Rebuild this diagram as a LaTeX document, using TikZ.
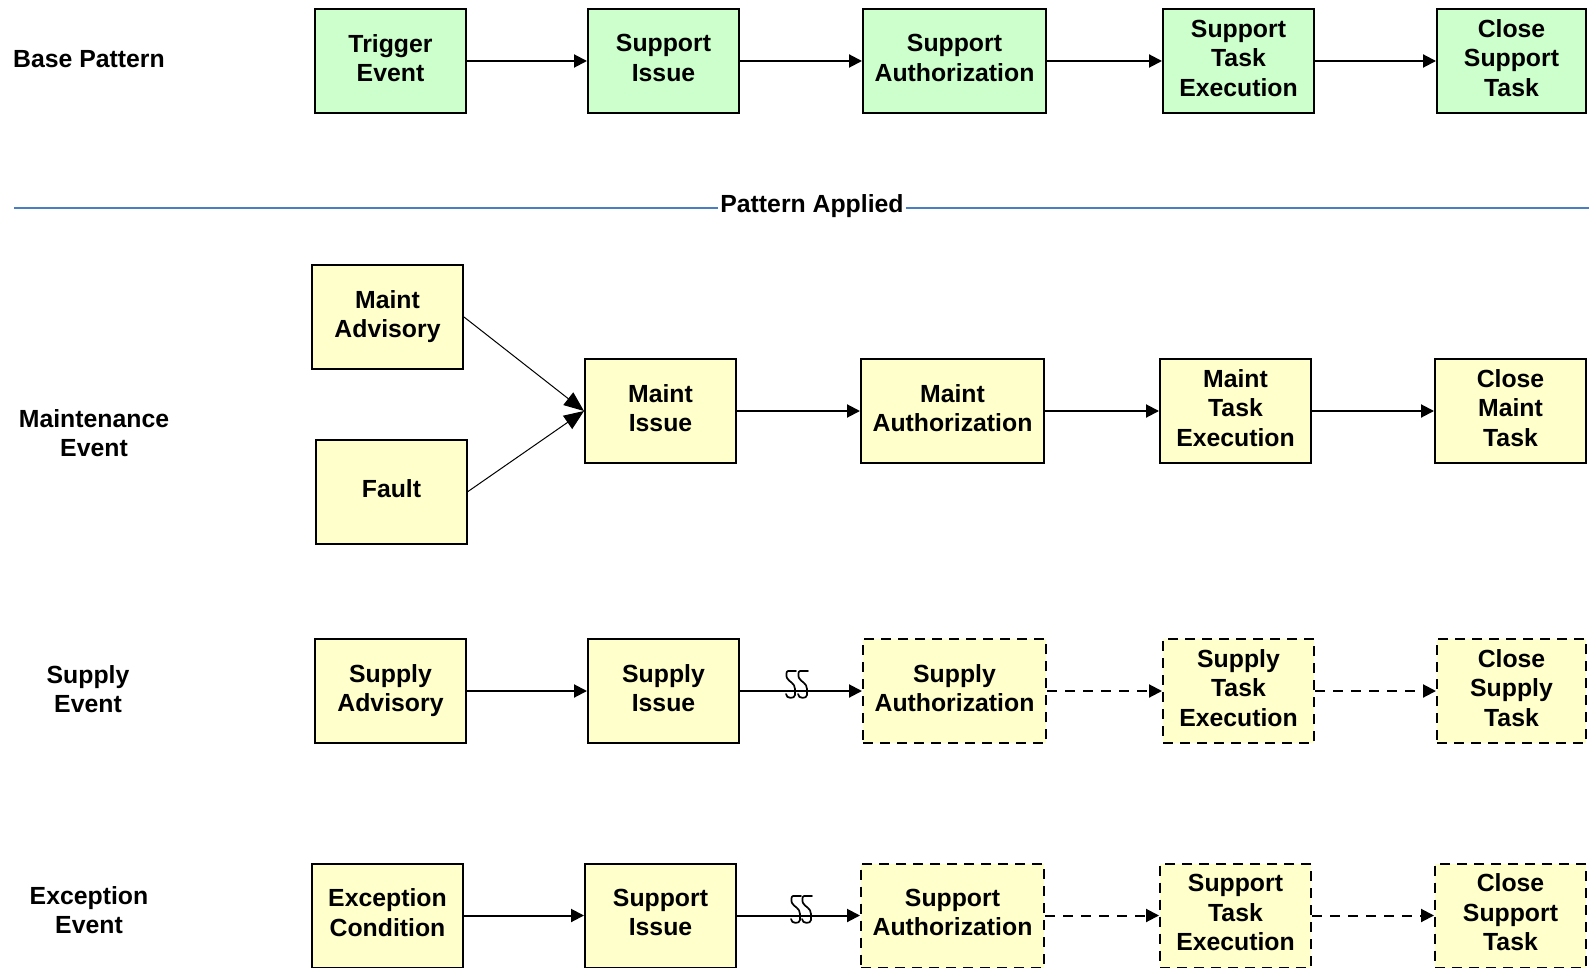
\documentclass[tikz,border=0pt]{standalone}
\usepackage{fontspec}
\setmainfont{Liberation Sans}
\usetikzlibrary{arrows.meta}
\definecolor{basegreen}{HTML}{CCFFCC}
\definecolor{appyellow}{HTML}{FFFFCC}
\definecolor{rulerblue}{HTML}{4A7EC0}
\begin{document}
\begin{tikzpicture}[x=1pt,y=-1pt,
  txt/.style={font=\bfseries\fontsize{24.8}{29.5}\selectfont, align=center, inner sep=0pt},
  box/.style={txt, text depth=6pt, draw=black, line width=2pt, minimum height=104pt},
  wbox/.style={box, minimum width=151pt},
  widebox/.style={box, minimum width=183pt},
  base/.style={fill=basegreen},
  applied/.style={fill=appyellow},
  planned/.style={dash pattern=on 10pt off 7pt},
  flow/.style={line width=2pt, -{Triangle[length=13pt,width=13pt]}},
  dflow/.style={flow, dash pattern=on 10pt off 8pt},
  merge/.style={line width=1pt, -{Triangle[length=20pt,width=16pt]}},
  brk/.style={line width=1.7pt, line join=round, line cap=round}
]
\clip (0,0) rectangle (1589,968);
\fill[white] (0,0) rectangle (1589,968);

% ---------- base pattern ----------
\node[txt, anchor=west] (lbase) at (13,59) {Base Pattern};
\node[wbox, base] (b1) at (390.5,61) {Trigger\\Event};
\node[wbox, base] (b2) at (663.5,61) {Support\\Issue};
\node[widebox, base] (b3) at (954.5,61) {Support\\Authorization};
\node[wbox, base] (b4) at (1238.5,61) {Support\\Task\\Execution};
\node[box, base, minimum width=149pt] (b5) at (1511.5,61) {Close\\Support\\Task};
\draw[flow] (b1) -- (b2);
\draw[flow] (b2) -- (b3);
\draw[flow] (b3) -- (b4);
\draw[flow] (b4) -- (b5);

% ---------- separator ----------
\node[txt, fill=white, inner xsep=2pt] (sep) at (812,206) {Pattern Applied};
\coordinate (sepL) at (14,208);
\coordinate (sepR) at (1589,208);
\draw[rulerblue, line width=1.2pt] (sepL) -- (sep.west |- sepL);
\draw[rulerblue, line width=1.2pt] (sep.east |- sepR) -- (sepR);

% ---------- maintenance event ----------
\node[txt] (lmaint) at (94,433) {Maintenance\\Event};
\node[wbox, applied] (m0a) at (387.5,317) {Maint\\Advisory};
\node[wbox, applied] (m0b) at (391.5,491.5) {Fault};
\node[wbox, applied] (m1) at (660.5,411) {Maint\\Issue};
\node[widebox, applied] (m2) at (952.5,411) {Maint\\Authorization};
\node[wbox, applied] (m3) at (1235.5,411) {Maint\\Task\\Execution};
\node[wbox, applied] (m4) at (1510.5,411) {Close\\Maint\\Task};
\draw[merge] (m0a.east) -- (m1.west);
\draw[merge] (m0b.east) -- (m1.west);
\draw[flow] (m1) -- (m2);
\draw[flow] (m2) -- (m3);
\draw[flow] (m3) -- (m4);

% ---------- supply event ----------
\node[txt] (lsup) at (88,689) {Supply\\Event};
\node[wbox, applied] (s0) at (390.5,691) {Supply\\Advisory};
\node[wbox, applied] (s1) at (663.5,691) {Supply\\Issue};
\node[widebox, applied, planned] (s2) at (954.5,691) {Supply\\Authorization};
\node[wbox, applied, planned] (s3) at (1238.5,691) {Supply\\Task\\Execution};
\node[box, applied, planned, minimum width=149pt] (s4) at (1511.5,691) {Close\\Supply\\Task};
\draw[flow] (s0) -- (s1);
\draw[flow] (s1) -- (s2);
\draw[dflow] (s2) -- (s3);
\draw[dflow] (s3) -- (s4);
% break mark on the link into the planned steps
\foreach \cx in {791,803}{
  \draw[brk] (\cx+5,671) -- (\cx-3,671) .. controls (\cx-5,671) and (\cx-5,676) .. (\cx-4,678)
    .. controls (\cx-2,682) and (\cx+4,683) .. (\cx+4,689) -- (\cx+4,695)
    .. controls (\cx+4,699) and (\cx-5,699) .. (\cx-5,694);
}

% ---------- exception event ----------
\node[txt] (lexc) at (89,910) {Exception\\Event};
\node[wbox, applied] (e0) at (387.5,915.5) {Exception\\Condition};
\node[wbox, applied] (e1) at (660.5,915.5) {Support\\Issue};
\node[widebox, applied, planned] (e2) at (952.5,915.5) {Support\\Authorization};
\node[wbox, applied, planned] (e3) at (1235.5,915.5) {Support\\Task\\Execution};
\node[wbox, applied, planned] (e4) at (1510.5,915.5) {Close\\Support\\Task};
\draw[flow] (e0) -- (e1);
\draw[flow] (e1) -- (e2);
\draw[dflow] (e2) -- (e3);
\draw[dflow] (e3) -- (e4);
\foreach \cx in {796,807}{
  \draw[brk] (\cx+5,896) -- (\cx-3,896) .. controls (\cx-5,896) and (\cx-5,901) .. (\cx-4,903)
    .. controls (\cx-2,907) and (\cx+4,908) .. (\cx+4,914) -- (\cx+4,920)
    .. controls (\cx+4,924) and (\cx-5,924) .. (\cx-5,919);
}
\end{tikzpicture}
\end{document}
